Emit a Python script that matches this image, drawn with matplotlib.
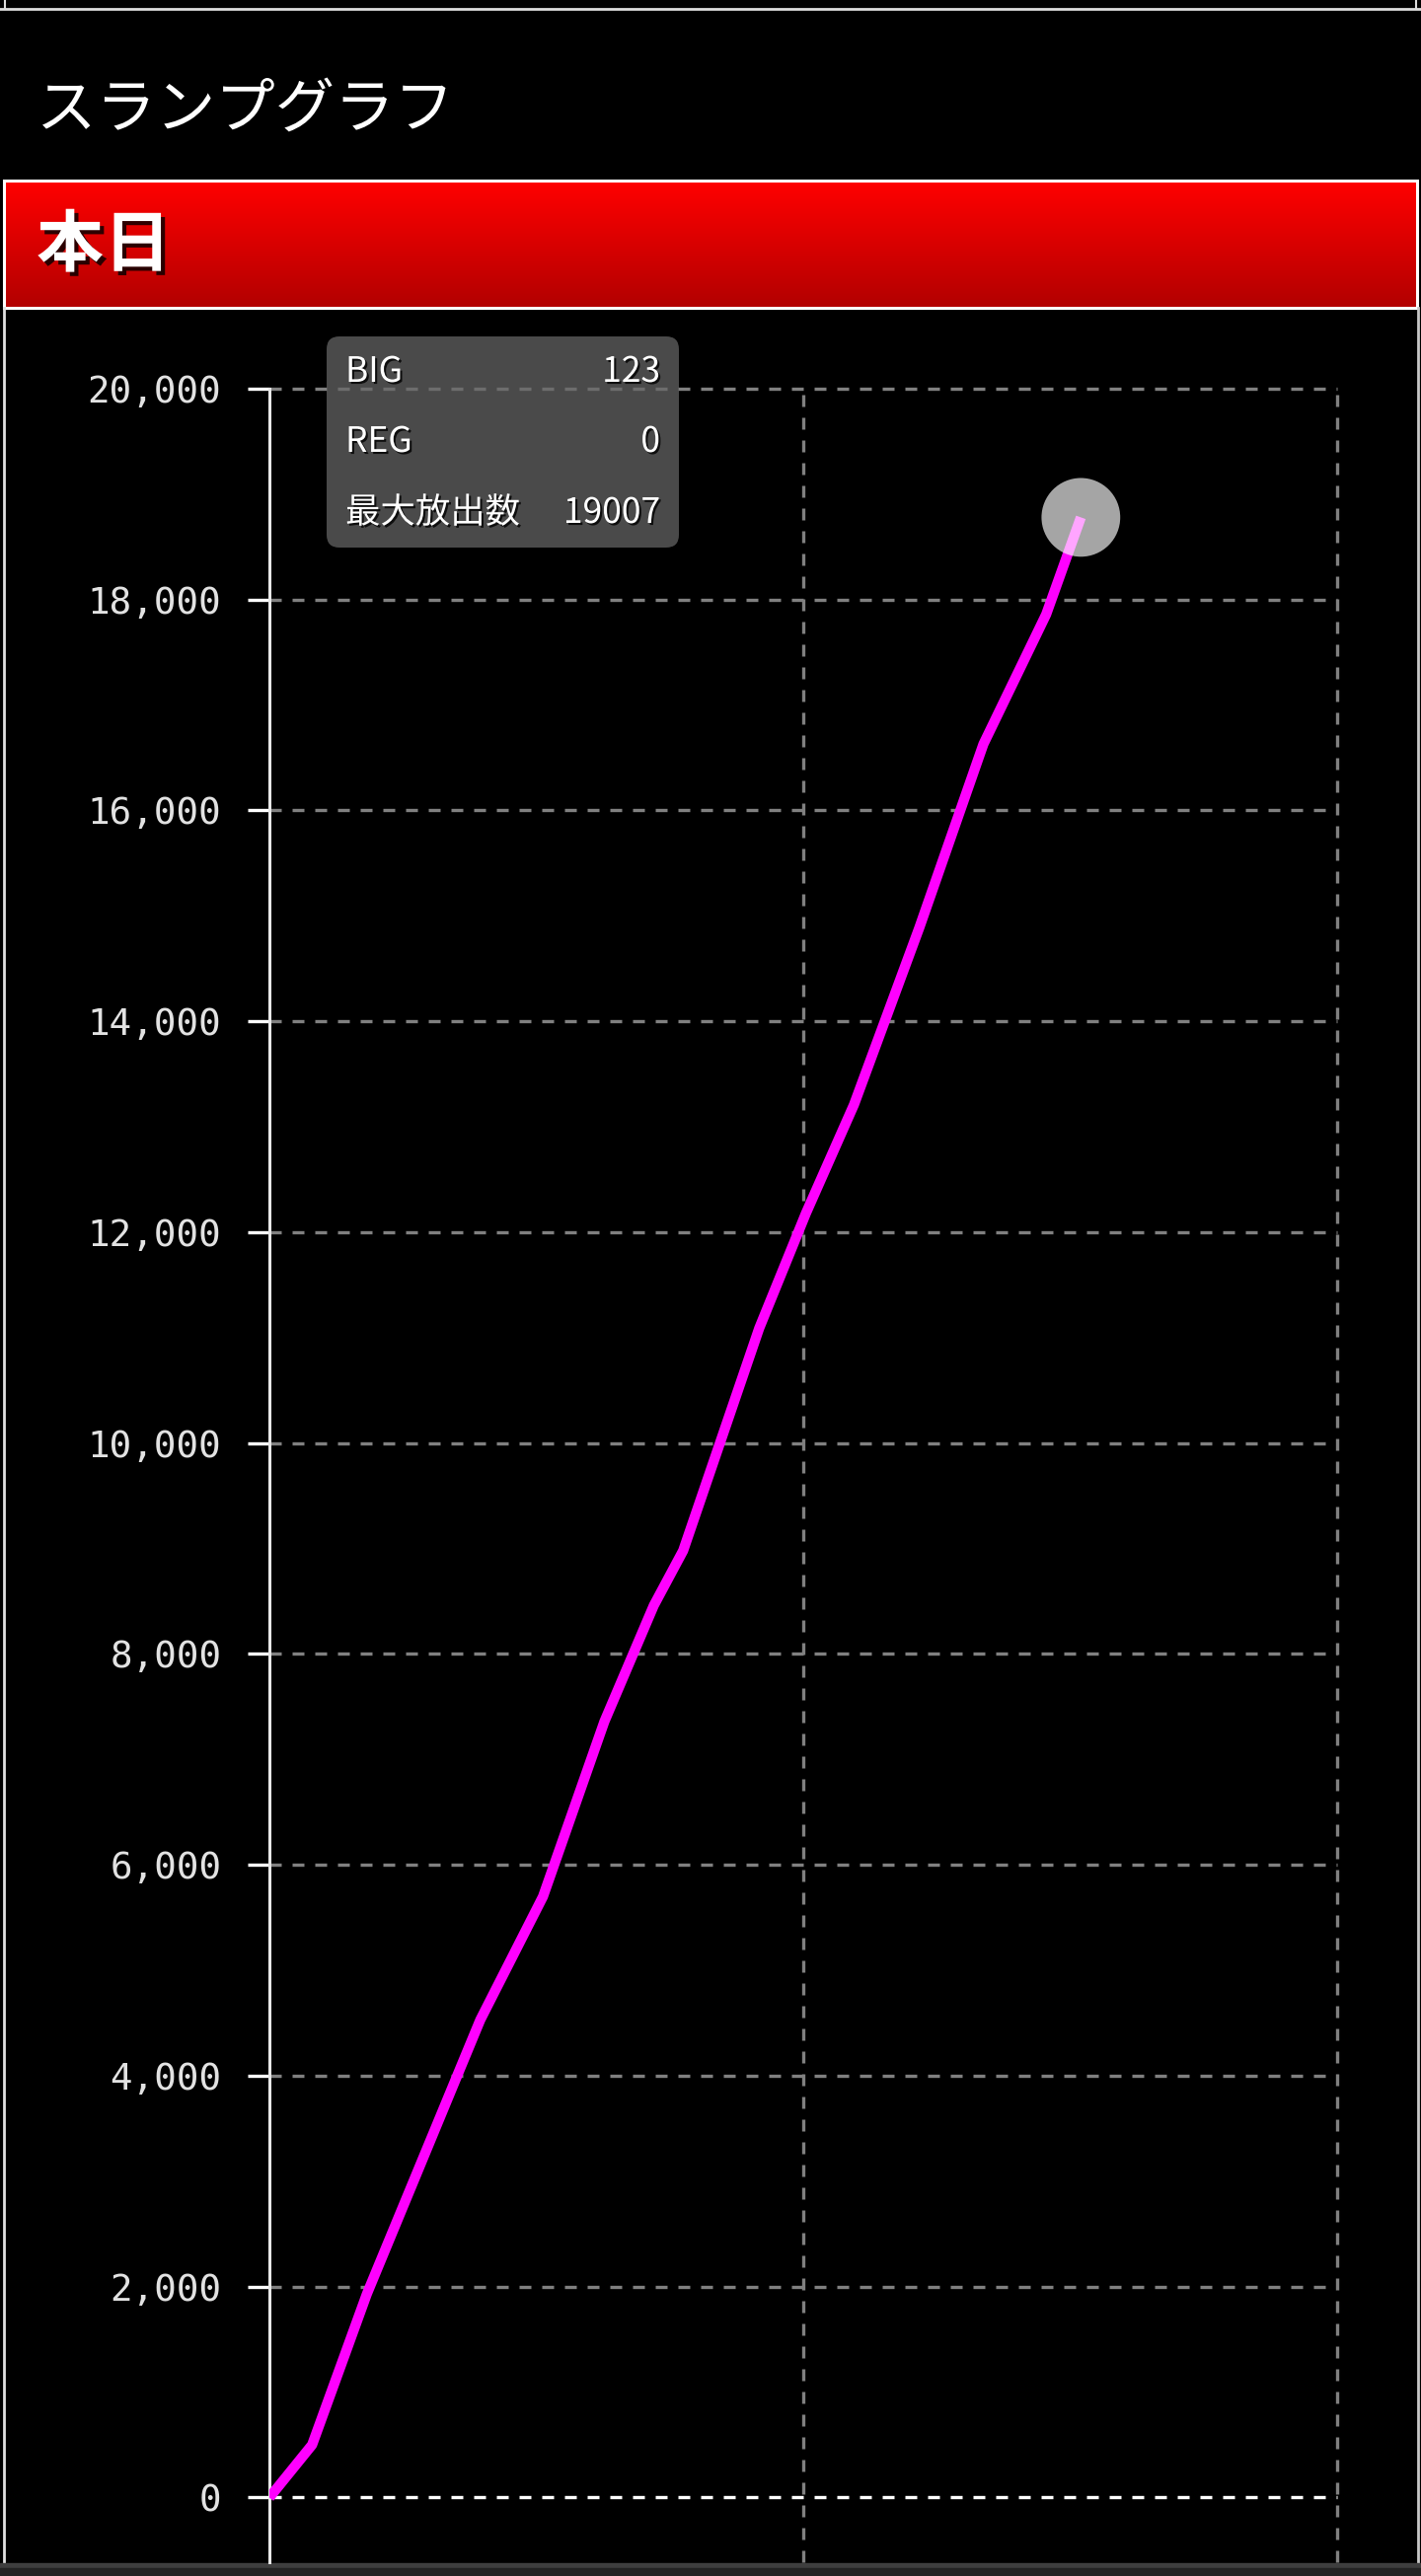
import numpy as np
import matplotlib
matplotlib.use("Agg")
import matplotlib.pyplot as plt
import matplotlib.patheffects as pe
from matplotlib.patches import Rectangle, FancyBboxPatch

# Data
games = [0, 320, 730, 1580, 2050, 2510, 2880, 3100, 3670, 4020, 4380, 4870, 5350, 5820, 6080]
diff = [0, 500, 1930, 4530, 5700, 7360, 8460, 8980, 11090, 12180, 13210, 14890, 16630, 17860, 18780]
yticks = [0, 2000, 4000, 6000, 8000, 10000, 12000, 14000, 16000, 18000, 20000]
xgrid = [4000, 8000]

tip_labels = ["BIG", "REG", "最大放出数"]
tip_values = ["123", "0", "19007"]

title = "スランプグラフ"
section = "本日"

W, H = 1440, 2611
fig = plt.figure(figsize=(W / 100, H / 100), dpi=100, facecolor="black")

# background / decoration layer in pixel coords (y down)
bg = fig.add_axes([0, 0, 1, 1], zorder=0)
bg.set_xlim(0, W)
bg.set_ylim(H, 0)
bg.axis("off")
bg.add_patch(Rectangle((0, 0), W, H, color="black", zorder=0))

# top strip of previous box
bg.plot([0, W], [9, 9], color="#dcdcdc", lw=2)
bg.plot([5, 5], [0, 9], color="#dcdcdc", lw=1.5)
bg.plot([1435, 1435], [0, 9], color="#dcdcdc", lw=1.5)

jp = ["Noto Sans CJK JP", "DejaVu Sans"]
shadow = [pe.SimplePatchShadow(offset=(2, -2), shadow_rgbFace="black", alpha=0.9), pe.Normal()]
bg.text(37, 112, title, fontsize=43.5, color="white", ha="left", va="center",
        family=jp, path_effects=shadow)

# red header with gradient
grad = np.linspace(0, 1, 256)
top_c = np.array([1.0, 0.0, 0.0])
bot_c = np.array([0.70, 0.0, 0.0])
img = (top_c[None, :] * (1 - grad[:, None]) + bot_c[None, :] * grad[:, None])[:, None, :]
bg.imshow(img, extent=[5, 1435, 311, 184], origin="upper", aspect="auto", zorder=1)
bg.add_patch(Rectangle((4, 183), 1432, 129, fill=False, edgecolor="white", lw=2.2, zorder=2))
shadow2 = [pe.SimplePatchShadow(offset=(3, -3), shadow_rgbFace="black", alpha=0.8), pe.Normal()]
bg.text(37, 250, section, fontsize=49, color="white", fontweight="bold", ha="left", va="center",
        family=jp, path_effects=shadow2, zorder=3)

# chart panel borders
bg.plot([4, 4], [312, 2598], color="#e0e0e0", lw=2)
bg.plot([1437, 1437], [312, 2598], color="#c8c8c8", lw=2)
bg.add_patch(Rectangle((0, 2598), W, 5, color="#3e3e3e", zorder=2))
bg.add_patch(Rectangle((0, 2603), W, 8, color="#222222", zorder=2))

# chart
x0, x1, ytop, ybot = 273, 1355, 394, 2597
ax = fig.add_axes([x0 / W, (H - ybot) / H, (x1 - x0) / W, (ybot - ytop) / H], zorder=2)
ax.set_facecolor("none")
ax.set_xlim(0, 8000)
ax.set_ylim(-613, 20000)

ax.plot(games, diff, color="#ff00ff", lw=7.4, solid_capstyle="butt", solid_joinstyle="round", zorder=3)
ax.scatter(games[-1], diff[-1], s=3300, color="white", alpha=0.65, edgecolors="none", zorder=4)

ax.set_yticks(yticks)
ax.set_yticklabels([f"{v:,}" for v in yticks], family="DejaVu Sans Mono", fontsize=27, color="#e2e2e2")
ax.set_xticks(xgrid)
ax.set_xticklabels([])
ax.tick_params(axis="x", length=0)
ax.tick_params(axis="y", length=16, width=2.4, color="white", pad=19)

ax.grid(True, color="#808080", lw=2.4, linestyle=(0, (3.6, 3.3)), zorder=1)
for gl in ax.get_xgridlines() + ax.get_ygridlines():
    gl.set_clip_on(False)
ax.get_ygridlines()[0].set_color("white")

for s in ["top", "right", "bottom"]:
    ax.spines[s].set_visible(False)
ax.spines["left"].set_color("#e8e8e8")
ax.spines["left"].set_linewidth(2.2)
ax.spines["left"].set_bounds(-613, 20000)

# tooltip layer
tp = fig.add_axes([0, 0, 1, 1], zorder=5)
tp.set_xlim(0, W)
tp.set_ylim(H, 0)
tp.axis("off")
tp.add_patch(FancyBboxPatch((344, 354), 331, 188, boxstyle="round,pad=13,rounding_size=13",
                            facecolor="#676767", edgecolor="none", alpha=0.73))
tshadow = [pe.SimplePatchShadow(offset=(1.5, -1.5), shadow_rgbFace="black", alpha=0.8), pe.Normal()]
rows_y = [377, 448, 520]
for lab, val, yy in zip(tip_labels, tip_values, rows_y):
    tp.text(350, yy, lab, fontsize=25.5, color="white", ha="left", va="center",
            family=jp, path_effects=tshadow)
    tp.text(669, yy, val, fontsize=25.5, color="white", ha="right", va="center",
            family=jp, path_effects=tshadow)

fig.savefig("out.png", dpi=100, facecolor="black")
